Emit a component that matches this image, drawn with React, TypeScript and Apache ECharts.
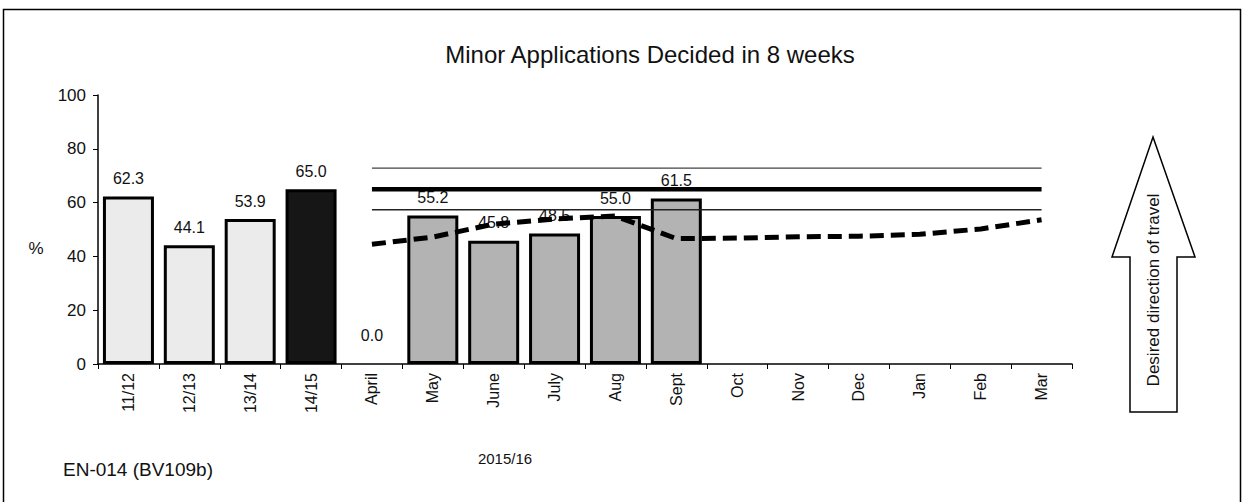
import React, { useEffect, useRef } from "react";
import * as echarts from "echarts";

const categories = ["11/12", "12/13", "13/14", "14/15", "April", "May", "June", "July", "Aug", "Sept", "Oct", "Nov", "Dec", "Jan", "Feb", "Mar"];
const barValues: (number | null)[] = [62.3, 44.1, 53.9, 65.0, 0.0, 55.2, 45.8, 48.5, 55.0, 61.5, null, null, null, null, null, null];
const barKinds = ["annual", "annual", "annual", "last", "month", "month", "month", "month", "month", "month", "month", "month", "month", "month", "month", "month"];
const trendValues: (number | null)[] = [null, null, null, null, 44.5, 47.2, 52.0, 53.9, 55.0, 46.6, 46.8, 47.3, 47.5, 48.2, 50.2, 53.6];
const targetValue = 65;
const upperBand = 72.8;
const lowerBand = 57.3;
const yTicks = [0, 20, 40, 60, 80, 100];

const FONT = "'Liberation Sans', Arial, sans-serif";

export default function App() {
  const ref = useRef<HTMLDivElement>(null);
  useEffect(() => {
    if (!ref.current) return;
    const chart = echarts.init(ref.current, null, { renderer: "svg" });
    const colorOf: Record<string, string> = { annual: "#ebebeb", last: "#161616", month: "#b3b3b3" };
    const flat = (v: number) => categories.map((_, i) => (i >= 4 ? v : null));
    chart.setOption({
      animation: false,
      backgroundColor: "#ffffff",
      textStyle: { fontFamily: FONT },
      title: {
        text: "Minor Applications Decided in 8 weeks",
        left: 645,
        top: 37,
        textAlign: "center",
        textStyle: { fontFamily: FONT, fontSize: 24, fontWeight: "normal", color: "#111" },
      },
      grid: { left: 98, right: 173, top: 95, bottom: 138, containLabel: false },
      xAxis: {
        type: "category",
        data: categories,
        axisLine: { lineStyle: { color: "#000", width: 1.5 } },
        axisTick: { show: true, inside: false, length: 5, alignWithLabel: false, lineStyle: { color: "#000" } },
        axisLabel: { rotate: 90, fontSize: 16, color: "#111", margin: 9, fontFamily: FONT, interval: 0 },
      },
      yAxis: {
        type: "value",
        min: yTicks[0],
        max: yTicks[yTicks.length - 1],
        interval: 20,
        splitLine: { show: false },
        axisLine: { show: true, lineStyle: { color: "#000", width: 1.5 } },
        axisTick: { show: true, length: 5, lineStyle: { color: "#000" } },
        axisLabel: { fontSize: 17, color: "#111", margin: 12, fontFamily: FONT },
      },
      series: [
        {
          type: "bar",
          barWidth: 51,
          data: barValues.map((v, i) =>
            v === null
              ? null
              : {
                  value: v,
                  itemStyle: {
                    color: colorOf[barKinds[i]],
                    borderColor: "#000",
                    borderWidth: v === 0 ? 0 : 3,
                  },
                  label: v === 0 ? { distance: 21 } : undefined,
                }
          ),
          label: {
            show: true,
            position: "top",
            distance: 10,
            fontSize: 16,
            color: "#111",
            fontFamily: FONT,
            formatter: (p: any) => Number(p.value).toFixed(1),
          },
          z: 2,
        },
        {
          type: "line",
          data: flat(upperBand),
          showSymbol: false,
          symbol: "none",
          lineStyle: { color: "#444", width: 1.2 },
          z: 3,
        },
        {
          type: "line",
          data: flat(lowerBand),
          showSymbol: false,
          symbol: "none",
          lineStyle: { color: "#222", width: 1.5 },
          z: 3,
        },
        {
          type: "line",
          data: flat(targetValue),
          showSymbol: false,
          symbol: "none",
          lineStyle: { color: "#000", width: 4.5 },
          z: 3,
        },
        {
          type: "line",
          data: trendValues,
          showSymbol: false,
          symbol: "none",
          lineStyle: { color: "#000", width: 5, type: [14, 7] },
          z: 4,
        },
      ],
      graphic: [
        {
          type: "rect",
          shape: { x: 3.5, y: 9.5, width: 1237, height: 600 },
          style: { fill: "none", stroke: "#000", lineWidth: 1.5 },
          silent: true,
        },
        {
          type: "text",
          x: 36,
          y: 248,
          style: { text: "%", font: `17px ${FONT}`, fill: "#111", textAlign: "center", textVerticalAlign: "middle" },
        },
        {
          type: "polygon",
          shape: {
            points: [
              [1153, 137],
              [1195, 257],
              [1177, 257],
              [1177, 412],
              [1130, 412],
              [1130, 257],
              [1112, 257],
            ],
          },
          style: { fill: "#fff", stroke: "#000", lineWidth: 1.5 },
        },
        {
          type: "text",
          x: 1153,
          y: 290,
          rotation: Math.PI / 2,
          style: {
            text: "Desired direction of travel",
            font: `17px ${FONT}`,
            fill: "#111",
            textAlign: "center",
            textVerticalAlign: "middle",
          },
        },
        {
          type: "text",
          x: 63,
          y: 469,
          style: { text: "EN-014 (BV109b)", font: `19px ${FONT}`, fill: "#111", textAlign: "left", textVerticalAlign: "middle" },
        },
        {
          type: "text",
          x: 505,
          y: 458,
          style: { text: "2015/16", font: `15px ${FONT}`, fill: "#111", textAlign: "center", textVerticalAlign: "middle" },
        },
      ],
    });
    return () => chart.dispose();
  }, []);
  return <div ref={ref} style={{ position: "absolute", left: 0, top: 0, width: 1245, height: 502 }} />;
}
